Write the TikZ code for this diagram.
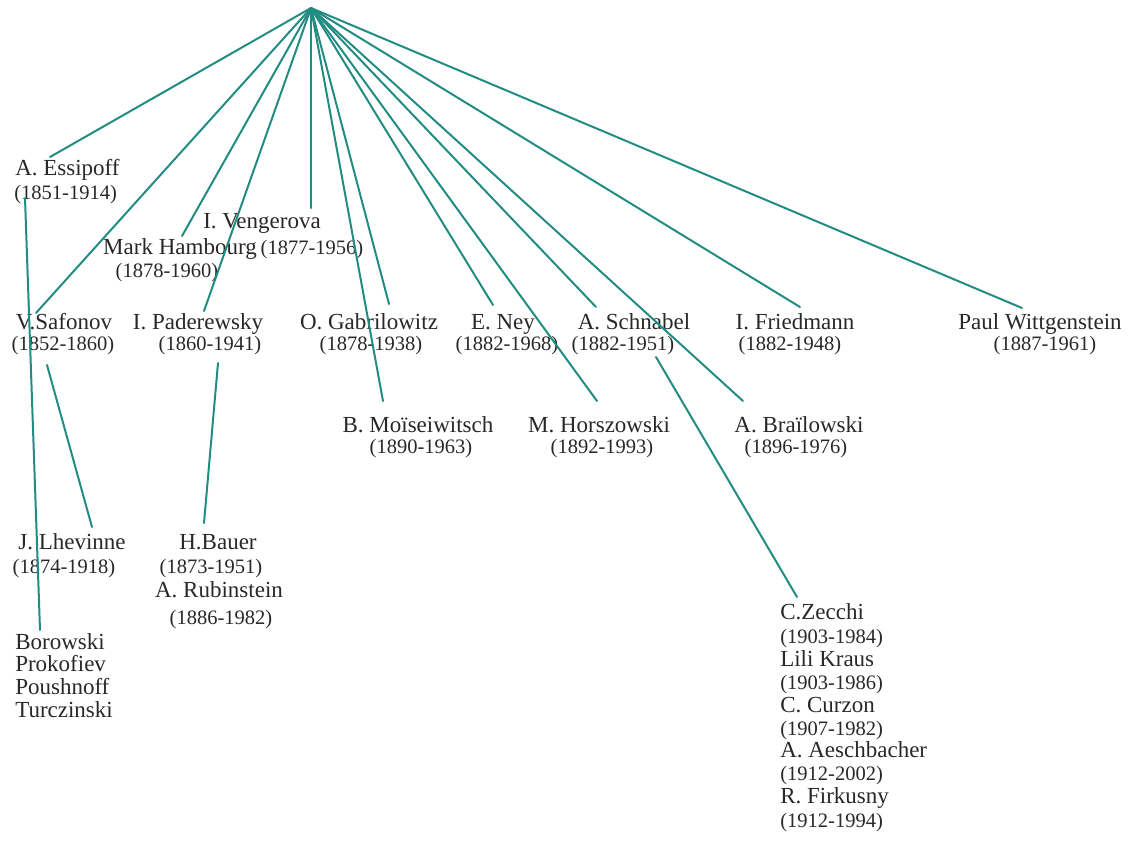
\documentclass[tikz,border=0pt]{standalone}
\usepackage{fontspec}
\setmainfont{Liberation Serif}
\definecolor{edge}{RGB}{34,140,130}
\definecolor{ink}{RGB}{40,40,40}
\begin{document}
\begin{tikzpicture}[x=0.75pt,y=-0.75pt,
  nm/.style={font=\fontsize{17.25}{20}\selectfont, text=ink, inner sep=0pt, anchor=mid, yshift=-3pt},
  dt/.style={font=\fontsize{15.4}{18}\selectfont, text=ink, inner sep=0pt, anchor=mid, yshift=-3pt},
  link/.style={draw=edge, line width=1.5pt, line cap=round}]
\useasboundingbox (0,0) rectangle (1131,858);

% teacher at the top
\coordinate (root) at (311,8);

% first generation
\node[nm, anchor=mid west] (essipoff) at (15,168) {A. Essipoff};
\node[dt, anchor=mid west] (essipoffD) at (14,192) {(1851-1914)};
\node[nm] (vengerova) at (262,221) {I. Vengerova};
\node[nm] (hambourg) at (180,247) {Mark Hambourg};
\node[dt] (vengerovaD) at (312,247) {(1877-1956)};
\node[dt] (hambourgD) at (167,270) {(1878-1960)};

\node[nm] (safonov) at (64,322) {V.Safonov};
\node[dt] (safonovD) at (63,343) {(1852-1860)};
\node[nm] (paderewsky) at (198,322) {I. Paderewsky};
\node[dt] (paderewskyD) at (210,343) {(1860-1941)};
\node[nm] (gabrilowitz) at (369,322) {O. Gabrilowitz};
\node[dt] (gabrilowitzD) at (371,343) {(1878-1938)};
\node[nm] (ney) at (503,322) {E. Ney};
\node[dt] (neyD) at (507,343) {(1882-1968)};
\node[nm] (schnabel) at (634,322) {A. Schnabel};
\node[dt] (schnabelD) at (623,343) {(1882-1951)};
\node[nm] (friedmann) at (795,322) {I. Friedmann};
\node[dt] (friedmannD) at (790,343) {(1882-1948)};
\node[nm] (wittgenstein) at (1040,322) {Paul Wittgenstein};
\node[dt] (wittgensteinD) at (1045,343) {(1887-1961)};

\node[nm] (moiseiwitsch) at (418,425) {B. Moïseiwitsch};
\node[dt] (moiseiwitschD) at (421,446) {(1890-1963)};
\node[nm] (horszowski) at (599,425) {M. Horszowski};
\node[dt] (horszowskiD) at (602,446) {(1892-1993)};
\node[nm] (brailowski) at (799,425) {A. Braïlowski};
\node[dt] (brailowskiD) at (796,446) {(1896-1976)};

% second generation
\node[nm] (lhevinne) at (72,542) {J. Lhevinne};
\node[dt] (lhevinneD) at (64,566) {(1874-1918)};
\node[nm] (bauer) at (218,542) {H.Bauer};
\node[dt] (bauerD) at (211,566) {(1873-1951)};
\node[nm] (rubinstein) at (219,590) {A. Rubinstein};
\node[dt] (rubinsteinD) at (221,617) {(1886-1982)};

\node[nm, anchor=mid west] (borowski) at (15,642) {Borowski};
\node[nm, anchor=mid west] (prokofiev) at (15,664) {Prokofiev};
\node[nm, anchor=mid west] (poushnoff) at (15,687) {Poushnoff};
\node[nm, anchor=mid west] (turczinski) at (15,710) {Turczinski};

\node[nm, anchor=mid west] (zecchi) at (780,612) {C.Zecchi};
\node[dt, anchor=mid west] (zecchiD) at (780,636) {(1903-1984)};
\node[nm, anchor=mid west] (kraus) at (780,659) {Lili Kraus};
\node[dt, anchor=mid west] (krausD) at (780,682) {(1903-1986)};
\node[nm, anchor=mid west] (curzon) at (780,705) {C. Curzon};
\node[dt, anchor=mid west] (curzonD) at (780,728) {(1907-1982)};
\node[nm, anchor=mid west] (aeschbacher) at (780,750) {A. Aeschbacher};
\node[dt, anchor=mid west] (aeschbacherD) at (780,773) {(1912-2002)};
\node[nm, anchor=mid west] (firkusny) at (780,796) {R. Firkusny};
\node[dt, anchor=mid west] (firkusnyD) at (780,820) {(1912-1994)};

% connector ends
\coordinate (toEssipoff) at (50,157);
\coordinate (toSafonov) at (36,313);
\coordinate (toHambourg) at (182,236);
\coordinate (toPaderewsky) at (204,311);
\coordinate (toVengerova) at (311,208);
\coordinate (toGabrilowitz) at (389,304);
\coordinate (toMoiseiwitsch) at (383,401);
\coordinate (toNey) at (493,305);
\coordinate (toHorszowski) at (597,401);
\coordinate (toSchnabel) at (596,307);
\coordinate (toBrailowski) at (743,401);
\coordinate (toFriedmann) at (800,307);
\coordinate (toWittgenstein) at (1022,308);

\coordinate (fromEssipoff) at (25,198);
\coordinate (toBorowski) at (40,630);
\coordinate (fromSafonov) at (47,365);
\coordinate (toLhevinne) at (92,527);
\coordinate (fromPaderewsky) at (218,363);
\coordinate (toBauer) at (204,523);
\coordinate (fromSchnabel) at (656,357);
\coordinate (toZecchi) at (797,597);

% connectors from the teacher
\foreach \t in {toEssipoff,toSafonov,toHambourg,toPaderewsky,toVengerova,
  toGabrilowitz,toMoiseiwitsch,toNey,toHorszowski,toSchnabel,toBrailowski,
  toFriedmann,toWittgenstein}
  \draw[link] (root) -- (\t);

% connectors to the pupils' pupils
\draw[link] (fromEssipoff) -- (toBorowski);
\draw[link] (fromSafonov) -- (toLhevinne);
\draw[link] (fromPaderewsky) -- (toBauer);
\draw[link] (fromSchnabel) -- (toZecchi);
\end{tikzpicture}
\end{document}
